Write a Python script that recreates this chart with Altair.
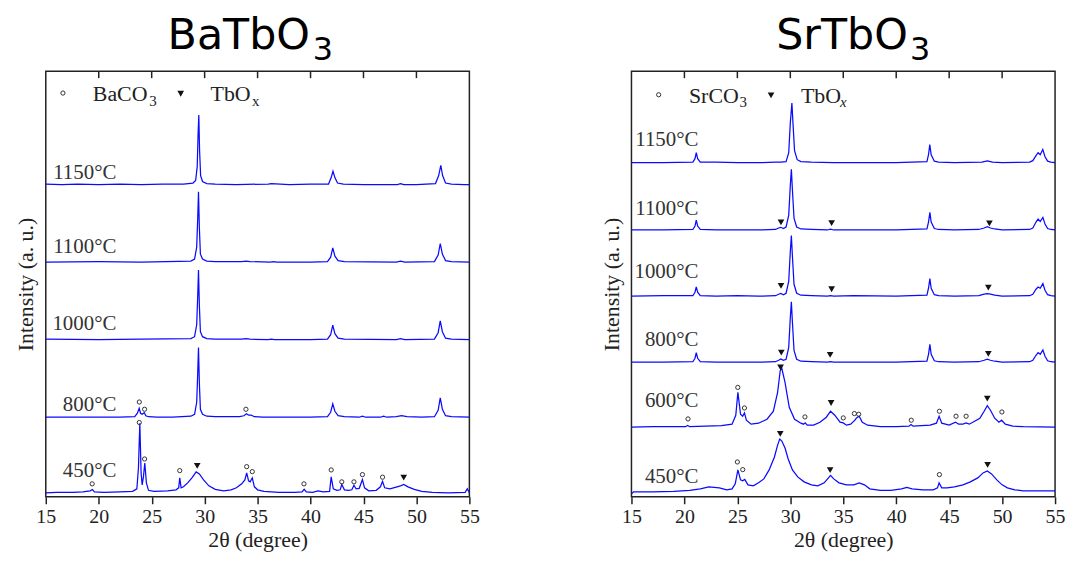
import altair as alt
import pandas as pd

# ---------------- axis ticks ----------------
TICKS = [15, 20, 25, 30, 35, 40, 45, 50, 55]
INNER_TICKS = [20, 25, 30, 35, 40, 45, 50]

# ---------------- BaTbO3 patterns (2θ, intensity above baseline) ----------------
ba_names = ["450°C", "800°C", "1000°C", "1100°C", "1150°C"]
ba_offsets = [4, 80, 158, 236, 314]

ba_450_x = [15, 16, 17.5, 18.5, 19.2, 19.4, 19.6, 20.5, 22, 23.2, 23.6, 23.75, 23.88, 24.0, 24.1, 24.22, 24.35, 24.5,
            24.7, 25.2, 26.5, 27.3, 27.55, 27.65, 27.78, 28.0, 28.4, 28.8, 29.2, 29.5, 29.9, 30.4, 31.0, 31.8, 32.5,
            33.0, 33.5, 33.8, 33.97, 34.15, 34.3, 34.5, 34.7, 35.0, 35.6, 37, 38.5, 39.2, 39.4, 39.6, 40.2, 40.7,
            41.2, 41.8, 41.95, 42.15, 42.5, 42.8, 42.95, 43.2, 43.6, 43.9, 44.1, 44.3, 44.6, 44.9, 45.1, 45.5, 46.2,
            46.6, 46.8, 47.0, 47.5, 48.0, 48.5, 48.8, 49.2, 49.8, 50.5, 51.5, 53, 54.6, 54.8, 54.95, 55]
ba_450_y = [0, 0.5, 0.5, 1, 2, 3.3, 1, 0.5, 1, 1.5, 4, 25, 70, 20, 8, 16, 30, 10,
            2.5, 1.5, 2, 3, 5, 15, 5, 6, 10, 15, 21, 19, 13, 7, 3.5, 2, 3,
            5, 9, 13, 20, 12, 11, 15, 6, 3, 1.5, 0.5, 0.5, 1, 3.5, 1, 0.5, 2,
            1, 1.5, 16, 4, 2.5, 3, 8.3, 3, 2.5, 3, 7.6, 4, 4.5, 13.3, 5, 2, 2.5,
            6, 11.6, 5, 4, 5.5, 7, 8.3, 6, 3.5, 1.5, 0.5, 0, 0.5, 4, 1, 0]

ba_800_x = [15, 17, 20, 22, 23.4, 23.65, 23.82, 23.95, 24.1, 24.3, 24.45, 24.7, 25.5, 27, 28.7, 29.05, 29.25, 29.35,
            29.42, 29.5, 29.6, 29.8, 30.2, 31, 33.3, 33.7, 33.95, 34.15, 34.4, 34.7, 35.5, 38, 40, 41.6, 41.9, 42.1,
            42.3, 42.6, 43.2, 44.6, 44.9, 45.2, 46.6, 46.9, 47.2, 48.1, 48.6, 49.1, 50.5, 51.7, 52.05, 52.25, 52.45,
            52.75, 53.3, 55]
ba_800_y = [0, 0, 0, 0, 0.5, 4, 9, 4, 3, 4.5, 1.5, 0.5, 0, 0, 1, 3, 15, 45,
            70, 35, 8, 3, 1, 0.5, 0.5, 1.5, 3.4, 2, 2, 0.5, 0, 0, 0, 0.5, 5, 13.4,
            6, 1.5, 0.5, 0, 1, 0, 0, 1, 0, 0.5, 1.5, 0.5, 0, 0.5, 7, 19.4, 8,
            1.5, 0.5, 0]

ba_1000_x = [15, 20, 24, 28.7, 29.05, 29.25, 29.35, 29.42, 29.5, 29.6, 29.8, 30.2, 31, 33.5, 33.9, 34.3, 36, 36.3,
             36.6, 40, 41.6, 41.9, 42.1, 42.3, 42.6, 43.2, 48.1, 48.5, 48.9, 51.7, 52.05, 52.25, 52.45, 52.75, 53.3, 55]
ba_1000_y = [0.5, 0, 0.5, 1, 3, 15, 45, 70, 35, 8, 3, 1, 0.5, 0.5, 1, 0.5, 0, 0.5,
             0, 0, 0.5, 5, 14.7, 6, 1.5, 0.5, 0, 1, 0, 0.5, 7, 19, 8, 1.5, 0.5, 0]

ba_1100_x = [15, 20, 24, 28.7, 29.05, 29.25, 29.35, 29.42, 29.5, 29.6, 29.8, 30.2, 31, 33.5, 33.9, 34.3, 36.2, 36.5,
             36.8, 40, 41.6, 41.9, 42.1, 42.3, 42.6, 43.2, 48.1, 48.5, 48.9, 51.7, 52.05, 52.25, 52.45, 52.75, 53.3, 55]
ba_1100_y = [0, 0.5, 0, 1, 3, 15, 45, 70.7, 35, 8, 3, 1, 0.5, 0.5, 1, 0.5, 0, 0.5,
             0, 0, 0.5, 5, 14.3, 6, 1.5, 0.5, 0, 1, 0, 0.5, 7, 18.7, 8, 1.5, 0.5, 0]

ba_1150_x = [15, 16.5, 18, 20, 22, 24, 26, 28, 28.9, 29.15, 29.3, 29.38, 29.45, 29.52, 29.62, 29.8, 30.2, 31, 33,
             36, 36.3, 38, 40, 41.7, 41.95, 42.12, 42.3, 42.55, 43.1, 45, 48.2, 48.5, 48.8, 50, 51.8, 52.1, 52.3,
             52.47, 52.75, 53.3, 54.5, 55]
ba_1150_y = [0.5, 0, 0.5, 0, 0.5, 0, 0.5, 0.5, 1.5, 4, 18, 50, 70, 35, 9, 3, 1, 0.5, 0,
             0.5, 1, 0, 0.5, 0.5, 7, 13.4, 7, 1.5, 0.5, 0, 0, 1, 0, 0, 1, 9, 19.4,
             9, 1.5, 0.5, 0, 0]

ba_xs = [ba_450_x, ba_800_x, ba_1000_x, ba_1100_x, ba_1150_x]
ba_ys = [ba_450_y, ba_800_y, ba_1000_y, ba_1100_y, ba_1150_y]

# temperature label anchors (right edge, baseline)
ba_label_x = [21.67] * 5
ba_label_y = [19.7, 86, 167.7, 245.3, 319.3]

# phase markers
ba_circ_x = [19.38, 23.83, 24.33, 27.65, 33.97, 34.5, 39.38, 41.95, 42.95, 44.1, 44.9, 46.8, 23.83, 24.33, 33.9]
ba_circ_y = [13, 74.7, 38, 26.3, 30.3, 25.3, 13, 27, 15, 15, 22.3, 19.7, 95.3, 88, 88]
ba_tri_x = [29.3, 48.8]
ba_tri_y = [31, 19.3]

# ---------------- SrTbO3 patterns ----------------
sr_names = ["450°C", "600°C", "800°C", "1000°C", "1100°C", "1150°C"]
sr_offsets = [5, 70, 135.3, 201.7, 268.3, 336]

sr_450_x = [15, 15.2, 17, 19, 20.5, 21.5, 22.3, 22.8, 23.3, 24, 24.5, 24.8, 25.05, 25.3, 25.5, 25.7, 26.0, 26.5,
            27.0, 27.5, 28.0, 28.5, 28.8, 29.0, 29.2, 29.5, 29.8, 30.2, 30.7, 31.3, 32.0, 32.6, 33.2, 33.6, 33.8,
            34.1, 34.6, 35.3, 36.0, 36.5, 37.0, 37.5, 38.5, 39.5, 40.5, 41.0, 41.5, 42.5, 43.5, 43.9, 44.05, 44.3,
            44.8, 45.5, 46.3, 47.0, 47.7, 48.2, 48.6, 49.0, 49.5, 50.0, 50.5, 51.2, 52, 53.5, 55]
sr_450_y = [-2, 0, 0, 0.5, 1.5, 3, 5, 4.5, 4, 2, 3, 8, 22, 12, 11, 12.5, 7, 6,
            9, 13, 22, 35, 47, 53, 51, 44, 33, 22, 15, 10, 7, 6, 9, 14, 16.5,
            13, 9, 7, 7, 9, 7, 3, 1.5, 1.5, 3, 4.5, 3, 2, 2, 4, 9, 4,
            4, 5, 7, 10, 14, 19, 21, 18, 12, 7, 4, 2, 1, 1, 1]

sr_600_x = [15, 17, 19, 20.1, 20.3, 20.5, 22, 23.5, 24.5, 24.85, 25.05, 25.3, 25.5, 25.67, 25.85, 26.3, 27, 27.8,
            28.4, 28.8, 29.05, 29.2, 29.5, 29.9, 30.4, 31.0, 31.25, 31.4, 31.6, 32.2, 32.8, 33.4, 33.8, 34.2, 34.7,
            35.0, 35.3, 35.7, 36.1, 36.25, 36.5, 36.8, 37.3, 38.5, 40, 41.2, 41.4, 41.6, 43.2, 43.8, 44.05, 44.3,
            45.0, 45.6, 45.9, 46.3, 46.6, 46.9, 47.4, 47.9, 48.3, 48.6, 48.9, 49.3, 49.7, 49.95, 50.3, 51, 52, 55]
sr_600_y = [0, 0.5, 0.5, 0.5, 1.7, 0.5, 1, 1.5, 3, 12, 35, 13, 11, 14.3, 7, 3, 4, 8,
            16, 35, 57, 59, 45, 20, 8, 4, 3, 4.3, 2, 2, 5, 10, 16, 12, 5,
            4.3, 2, 3, 7, 9.3, 11, 5, 2, 0.5, 0.5, 1, 2.7, 1, 2, 4, 11, 4,
            2, 5, 3, 3, 4.3, 3, 6, 9, 16, 21.7, 17, 9, 5, 7, 3, 1, 0.5, 0]

sr_800_x = [15, 18, 20.8, 21.0, 21.12, 21.25, 21.5, 23, 25, 27, 28.6, 28.9, 29.1, 29.35, 29.6, 29.85, 30.0, 30.1,
            30.2, 30.35, 30.6, 31, 32, 33.5, 33.8, 34.1, 36, 40, 42.9, 43.05, 43.18, 43.3, 43.6, 44, 45.5, 47.8,
            48.3, 48.6, 48.9, 49.3, 50, 52.6, 52.9, 53.2, 53.4, 53.6, 53.85, 54.05, 54.3, 54.6, 55]
sr_800_y = [0, 0, 0.5, 4, 9.7, 4, 0.5, 0, 0, 0, 0.5, 2, 3.3, 2, 3, 15, 45, 60.7,
            40, 12, 3, 1, 0.5, 0, 0.5, 0, 0, 0, 1, 8, 18, 8, 1.5, 0.5, 0, 0.5,
            2, 3, 2, 1, 0, 0.5, 2, 7, 9.7, 8, 12.3, 6, 1.5, 0.5, 0]

sr_1000_x = [15, 18, 20.8, 21.0, 21.12, 21.25, 21.5, 23, 25, 27, 28.6, 28.9, 29.1, 29.35, 29.6, 29.85, 30.0, 30.1,
             30.2, 30.35, 30.6, 31, 32, 33.5, 33.8, 34.1, 36, 40, 42.9, 43.05, 43.18, 43.3, 43.6, 44, 45.5, 47.8,
             48.3, 48.6, 48.9, 49.3, 50, 52.6, 52.9, 53.2, 53.4, 53.6, 53.85, 54.05, 54.3, 54.6, 55]
sr_1000_y = [0, 0.5, 0.5, 4, 9.3, 4, 0.5, 0, 0.5, 0, 0.5, 2, 2.7, 1.5, 3, 15, 45, 61,
             40, 12, 3, 1, 0.5, 0, 0.5, 0, 0.5, 0, 1, 8, 17.7, 8, 1.5, 0.5, 0, 0.5,
             2, 2.7, 2, 1, 0, 0.5, 2, 7, 9.3, 8, 12.7, 6, 1.5, 0.5, 0]

sr_1100_x = [15, 18, 20.8, 21.0, 21.12, 21.25, 21.5, 23, 25, 27, 28.6, 28.9, 29.1, 29.35, 29.6, 29.85, 30.0, 30.1,
             30.2, 30.35, 30.6, 31, 32, 33.5, 33.8, 34.1, 36, 40, 42.9, 43.05, 43.18, 43.3, 43.6, 44, 45.5, 47.8,
             48.3, 48.6, 48.9, 49.3, 50, 52.6, 52.9, 53.2, 53.4, 53.6, 53.85, 54.05, 54.3, 54.6, 55]
sr_1100_y = [0, 0, 0.5, 4, 10, 4, 0.5, 0, 0, 0, 0.5, 2, 2.7, 1.5, 3, 15, 45, 61,
             40, 12, 3, 1, 0.5, 0, 0.8, 0, 0, 0, 1, 8, 17.7, 8, 1.5, 0.5, 0, 0.5,
             2, 3.3, 2, 1, 0, 0.5, 2, 8, 11, 8.5, 12.7, 6, 1.5, 0.5, 0]

sr_1150_x = [15, 18, 20.8, 21.0, 21.12, 21.25, 21.5, 23, 25, 27, 28.6, 29.1, 29.6, 29.85, 30.0, 30.15, 30.25,
             30.4, 30.65, 31, 32, 34, 36, 40, 42.9, 43.05, 43.17, 43.3, 43.6, 44, 45.5, 48.1, 48.6, 49.1, 50,
             52.6, 52.9, 53.2, 53.4, 53.6, 53.84, 54.05, 54.3, 54.6, 55]
sr_1150_y = [0, 0, 0.5, 4, 10, 4, 0.5, 0.5, 0, 0, 0.5, 0.5, 1, 10, 40, 60, 40,
             12, 3, 1, 0.5, 0, 0, 0, 1, 8, 18.3, 8, 1.5, 0.5, 0, 0.5, 1.7, 0.5, 0,
             0.5, 2, 7, 10, 8, 13.3, 6, 1.5, 0.5, 0]

sr_xs = [sr_450_x, sr_600_x, sr_800_x, sr_1000_x, sr_1100_x, sr_1150_x]
sr_ys = [sr_450_y, sr_600_y, sr_800_y, sr_1000_y, sr_1100_y, sr_1150_y]

sr_label_x = [21.33] * 6
sr_label_y = [13.7, 90, 151.7, 220, 283.7, 352.7]

sr_circ_x = [20.34, 25.04, 25.67, 31.38, 35.0, 36.05, 36.46, 41.42, 44.08, 45.65, 46.6, 49.98, 25.0, 25.51, 44.08]
sr_circ_y = [78.3, 110, 89.3, 80.3, 79.3, 83.7, 83, 77, 86, 81, 81, 85.3, 35, 27.3, 22.3]
sr_tri_x = [29.12, 33.9, 48.8, 29.12, 33.9, 48.7, 29.15, 33.76, 48.7, 29.08, 33.85, 48.6, 29.05, 33.76, 48.63]
sr_tri_y = [276, 275.3, 275, 212, 208.7, 210.3, 145, 142.7, 143.7, 130, 94.3, 98.7, 63.3, 26.7, 32]

# ---------------- legend / title anchors (data units) ----------------
ba_legend = {"circ": (16.62, 406), "tri": (27.74, 405.3),
             "text": [("BaCO", 19.44, 398), ("TbO", 30.56, 398)],
             "sub": [("3", 24.77, 393, False), ("x", 34.47, 393, False)]}
sr_legend = {"circ": (17.57, 404.3), "tri": (28.18, 403.7),
             "text": [("SrCO", 20.43, 396), ("TbO", 31.0, 396)],
             "sub": [("3", 25.19, 391.7, False), ("x", 34.7, 391.7, True)]}
# (main text, right end, top) and (subscript, left start, top)
ba_title = ("BaTbO", 39.95, 484, "3", 40.2, 464)
sr_title = ("SrTbO", 41.1, 484, "3", 41.3, 464)

SERIF = "Liberation Serif"
SANS = "DejaVu Sans"
BLUE = "#0a0aff"
INK = "#222222"


def panel(names, offsets, xs, ys, lab_x, lab_y, cx, cy, tx, ty, legend, title):
    rows = []
    for name, off, px, py in zip(names, offsets, xs, ys):
        for i, (a, b) in enumerate(zip(px, py)):
            rows.append({"pattern": name, "i": i, "two_theta": a, "intensity": b + off})
    traces = pd.DataFrame(rows)

    X = alt.X("two_theta:Q",
              scale=alt.Scale(domain=[15, 55], nice=False, zero=False),
              axis=alt.Axis(values=TICKS, title="2θ (degree)", grid=False, domain=False,
                            tickSize=7, tickWidth=1.5, tickColor=INK,
                            labelFont=SERIF, labelFontSize=20, labelColor=INK,
                            labelPadding=3, labelFlush=False, labelOverlap=False,
                            titleFont=SERIF, titleFontSize=22, titleFontWeight="normal",
                            titleColor=INK, titlePadding=3))
    Y = alt.Y("intensity:Q",
              scale=alt.Scale(domain=[0, 428], nice=False, zero=False),
              axis=alt.Axis(title="Intensity (a. u.)", labels=False, ticks=False, domain=False,
                            grid=False, titleFont=SERIF, titleFontSize=22, titleFontWeight="normal",
                            titleColor=INK, titlePadding=8))

    lines = alt.Chart(traces).mark_line(color=BLUE, strokeWidth=1.25, clip=True).encode(
        x=X, y=Y, detail="pattern:N", order="i:Q")

    circ = pd.DataFrame({"two_theta": cx + [legend["circ"][0]], "intensity": cy + [legend["circ"][1]]})
    tri = pd.DataFrame({"two_theta": tx + [legend["tri"][0]], "intensity": ty + [legend["tri"][1]]})
    circles = alt.Chart(circ).mark_point(shape="circle", size=18, filled=False, stroke="#333333",
                                         strokeWidth=1, opacity=1).encode(x=X, y=Y)
    tris = alt.Chart(tri).mark_point(shape="triangle-down", size=45, filled=True, color="#111111",
                                     opacity=1).encode(x=X, y=Y)

    labs = pd.DataFrame({"two_theta": lab_x, "intensity": lab_y, "txt": names})
    labels = alt.Chart(labs).mark_text(font=SERIF, fontSize=21, align="right", baseline="alphabetic",
                                       color="#333333").encode(x=X, y=Y, text="txt:N")

    lt = pd.DataFrame({"two_theta": [t[1] for t in legend["text"]],
                       "intensity": [t[2] for t in legend["text"]],
                       "txt": [t[0] for t in legend["text"]]})
    leg_text = alt.Chart(lt).mark_text(font=SERIF, fontSize=22, align="left", baseline="alphabetic",
                                       color=INK).encode(x=X, y=Y, text="txt:N")
    layers = [lines, circles, tris, labels, leg_text]
    for s in legend["sub"]:
        sd = pd.DataFrame({"two_theta": [s[1]], "intensity": [s[2]], "txt": [s[0]]})
        layers.append(alt.Chart(sd).mark_text(font=SERIF, fontSize=15, align="left", baseline="alphabetic",
                                              fontStyle="italic" if s[3] else "normal",
                                              color=INK).encode(x=X, y=Y, text="txt:N"))

    td = pd.DataFrame({"two_theta": [title[1]], "intensity": [title[2]], "txt": [title[0]]})
    tsd = pd.DataFrame({"two_theta": [title[4]], "intensity": [title[5]], "txt": [title[3]]})
    layers.append(alt.Chart(td).mark_text(font=SANS, fontSize=43, align="right", baseline="top",
                                          color="#000000").encode(x=X, y=Y, text="txt:N"))
    layers.append(alt.Chart(tsd).mark_text(font=SANS, fontSize=32, align="left", baseline="top",
                                           color="#000000").encode(x=X, y=Y, text="txt:N"))

    tk = pd.DataFrame({"two_theta": INNER_TICKS})
    layers.append(alt.Chart(tk).mark_rule(color=INK, strokeWidth=1.5).encode(
        x=X, y=alt.value(0), y2=alt.value(7)))

    return alt.layer(*layers).properties(width=426, height=428)


left = panel(ba_names, ba_offsets, ba_xs, ba_ys, ba_label_x, ba_label_y,
             ba_circ_x, ba_circ_y, ba_tri_x, ba_tri_y, ba_legend, ba_title)
right = panel(sr_names, sr_offsets, sr_xs, sr_ys, sr_label_x, sr_label_y,
              sr_circ_x, sr_circ_y, sr_tri_x, sr_tri_y, sr_legend, sr_title)

chart = alt.hconcat(left, right, spacing=120).properties(
    padding={"left": 6, "top": 5, "right": 0, "bottom": -1}
).configure(
    font=SERIF
).configure_view(
    stroke=INK, strokeWidth=1.5, fill="white"
).configure_axis(
    labelFont=SERIF, titleFont=SERIF
)

chart.save("out.html", embed_options={"renderer": "svg", "actions": False})
